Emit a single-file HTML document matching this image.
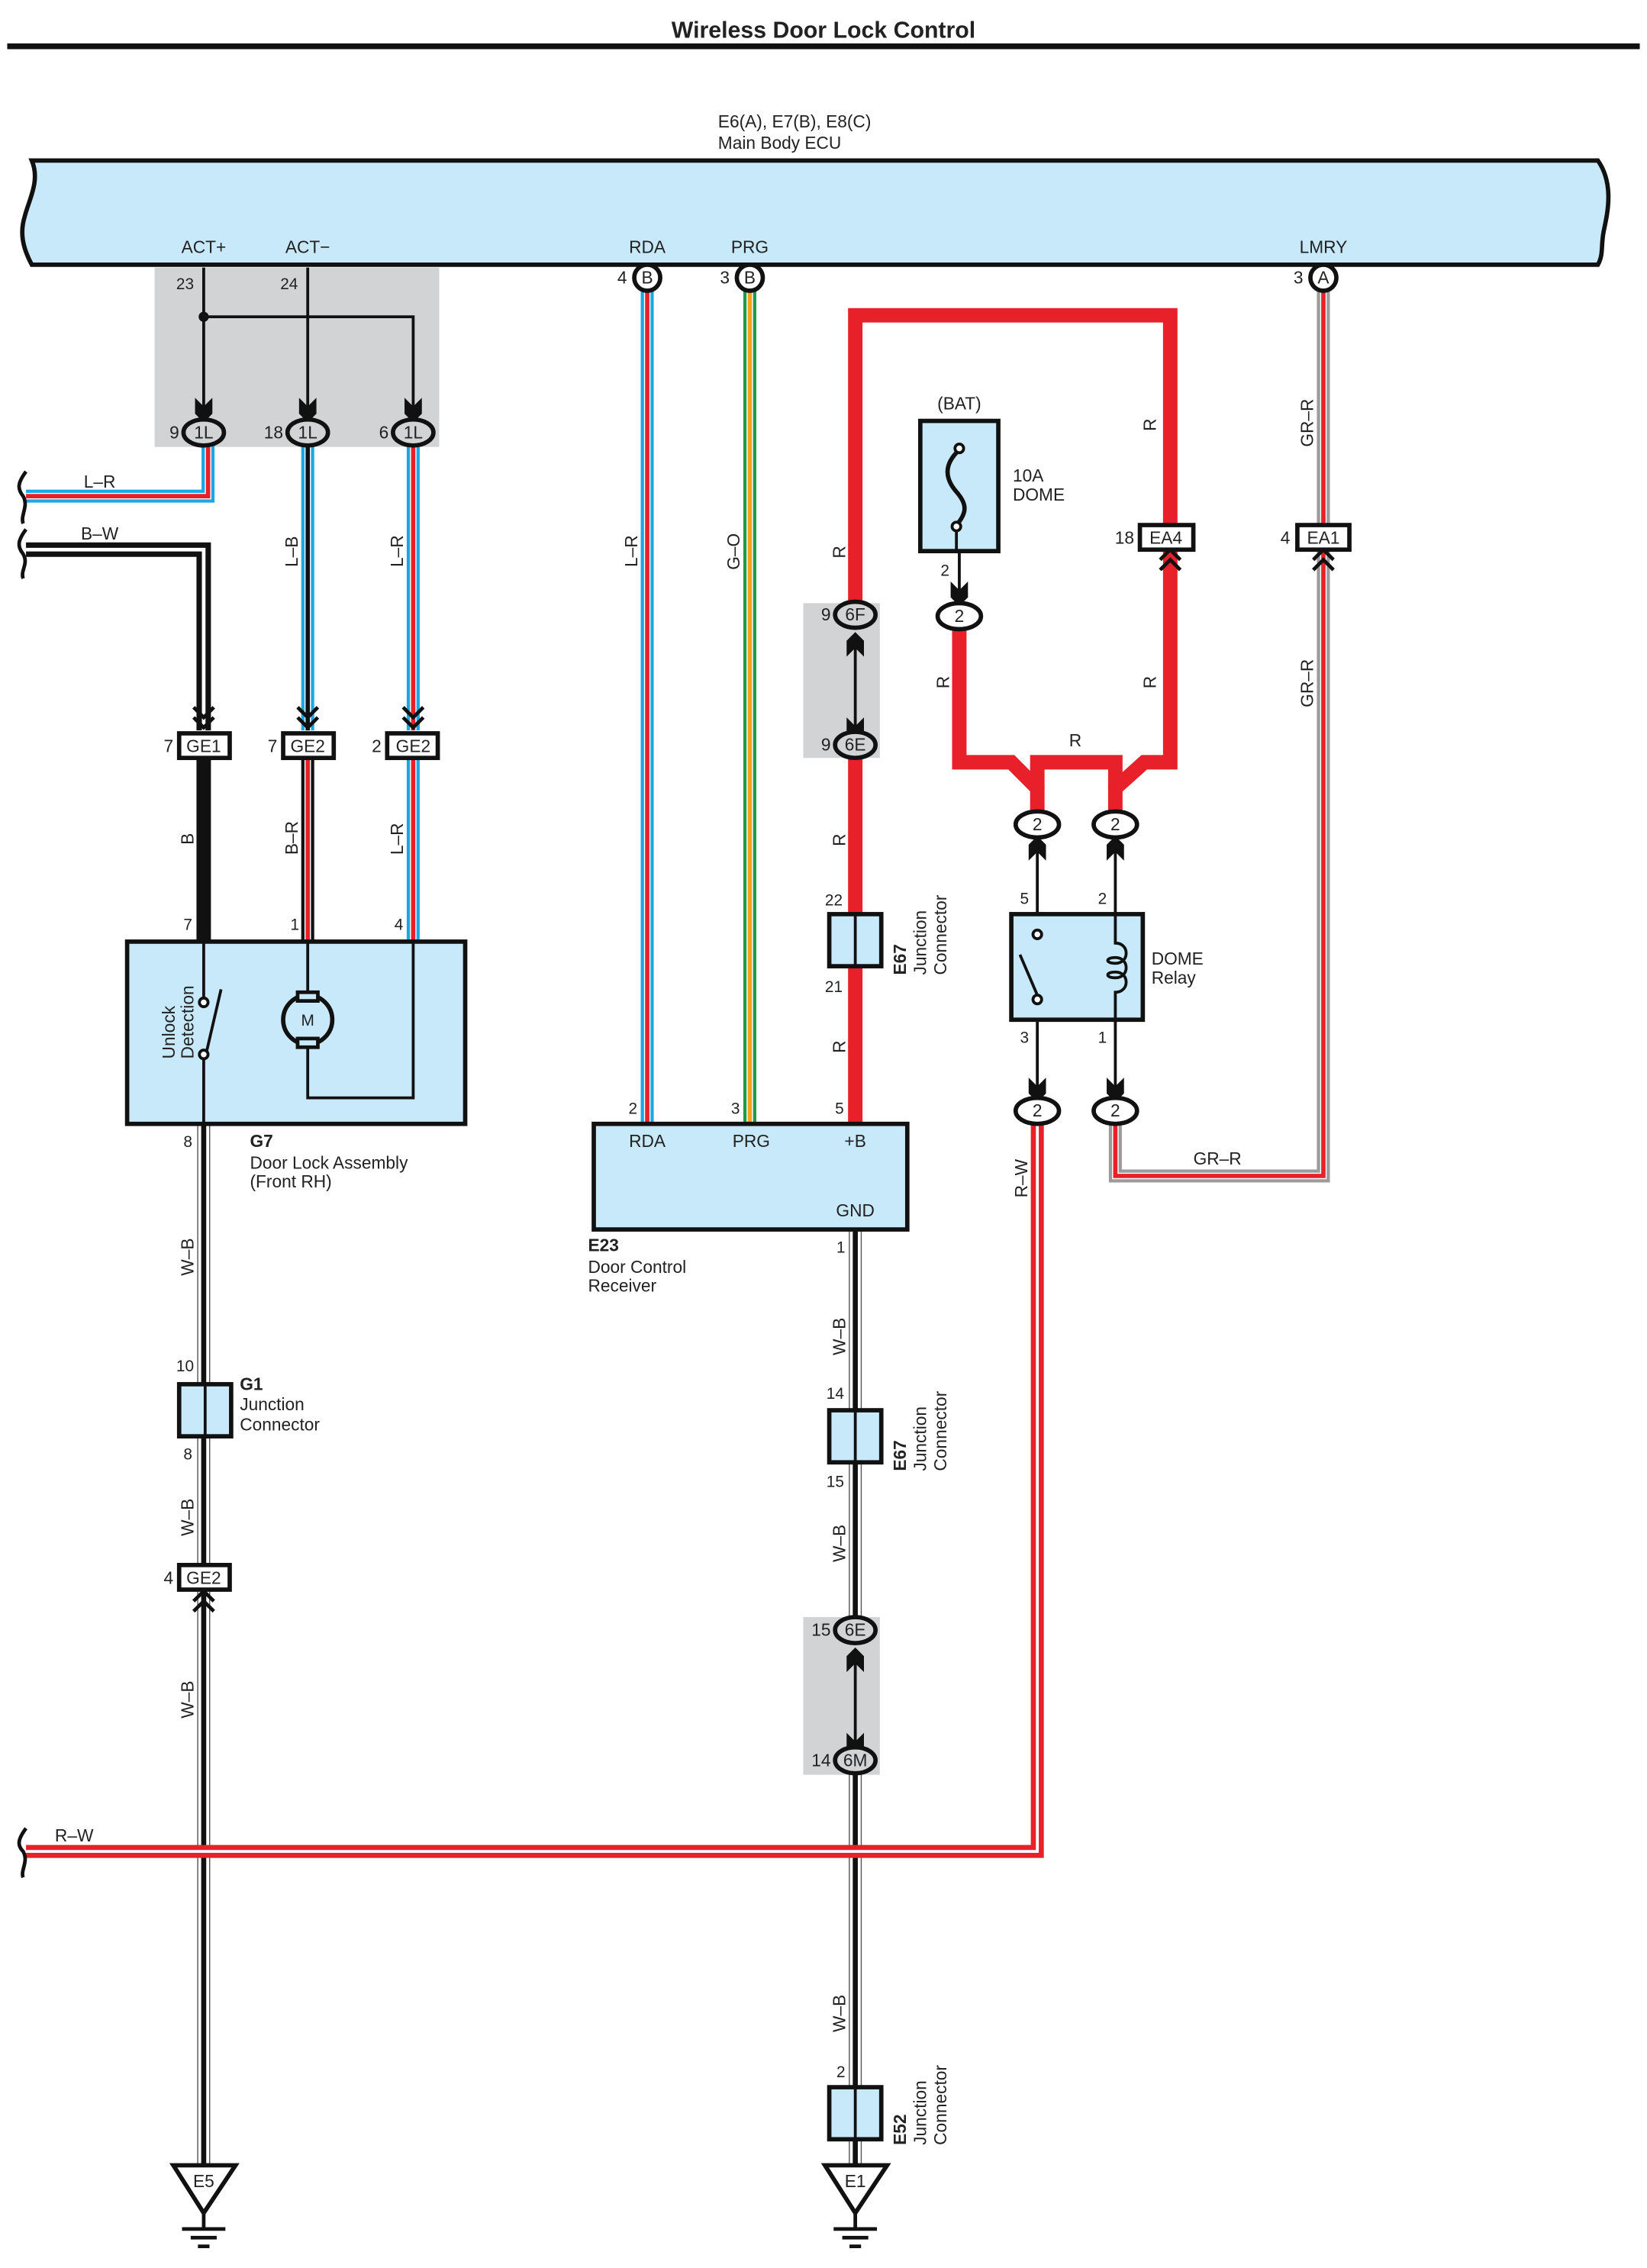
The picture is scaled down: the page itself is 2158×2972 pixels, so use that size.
<!DOCTYPE html>
<html><head><meta charset="utf-8"><style>
html,body{margin:0;padding:0;background:#fff}
svg{display:block}
text{font-family:"Liberation Sans",sans-serif;fill:#222}
.t{font-size:12px}
.s{font-size:11px}
.b{font-weight:bold}
</style></head><body>
<svg width="2158" height="2972" viewBox="0 0 1140 1568" preserveAspectRatio="none" xmlns="http://www.w3.org/2000/svg">
<defs>
<path id="lr1" d="M18 343 H144 V308"/>
<path id="bw" d="M18 380 H141 V505"/>
<path id="lb" d="M213 308 V505"/>
<path id="lr2" d="M286 308 V505"/>
<path id="rda" d="M448 201 V777"/>
<path id="prg" d="M519 201 V777"/>
<path id="br" d="M213 525 V651"/>
<path id="lr3" d="M286 525 V651"/>
<path id="rw" d="M18 1280 H718 V778"/>
<path id="grr" d="M772 778 V813 H916 V201"/>
<path id="wb1" d="M141 777 V1500"/>
<path id="wb2" d="M592 850 V1118"/>
<path id="wb3" d="M592 1226 V1500"/>
</defs>
<rect width="1140" height="1568" fill="#fff"/>
<text x="570" y="26" text-anchor="middle" class="b" style="font-size:16px">Wireless Door Lock Control</text>
<rect x="5" y="30" width="1130" height="4" fill="#111"/>
<text x="497" y="88" class="t">E6(A), E7(B), E8(C)</text>
<text x="497" y="103" class="t">Main Body ECU</text>
<path d="M22 111 H1106 C1118 128 1112 150 1110 160 C1108 170 1110 176 1106 183 H22 C15 170 14 160 17 150 C20 138 28 125 22 111 Z" fill="#c8e9f9" stroke="#111" stroke-width="3"/>
<g class="t" text-anchor="middle"><text x="141" y="175">ACT+</text><text x="213" y="175">ACT−</text><text x="448" y="175">RDA</text><text x="519" y="175">PRG</text><text x="916" y="175">LMRY</text></g>
<rect x="107" y="185" width="197" height="124" fill="#d1d3d4"/>
<rect x="556" y="417" width="53" height="107" fill="#d1d3d4"/>
<rect x="556" y="1118" width="53" height="109" fill="#d1d3d4"/>
<g class="s"><text x="122" y="200">23</text><text x="194" y="200">24</text></g>
<g stroke="#111" stroke-width="2" fill="none"><path d="M141 185 V290"/><path d="M213 185 V290"/><path d="M141 219 H286 V290"/></g>
<circle cx="141" cy="219" r="3.5" fill="#111"/>
<g fill="none">
<use href="#lr1" stroke="#1ca6e2" stroke-width="9"/><use href="#lr1" stroke="#fff" stroke-width="4.5"/><use href="#lr1" stroke="#e8202a" stroke-width="3"/>
<use href="#bw" stroke="#111" stroke-width="10"/><use href="#bw" stroke="#fff" stroke-width="2.5"/>
<use href="#lb" stroke="#1ca6e2" stroke-width="9"/><use href="#lb" stroke="#fff" stroke-width="4.5"/><use href="#lb" stroke="#111" stroke-width="3"/>
<use href="#lr2" stroke="#1ca6e2" stroke-width="9"/><use href="#lr2" stroke="#fff" stroke-width="4.5"/><use href="#lr2" stroke="#e8202a" stroke-width="3"/>
<use href="#lr3" stroke="#1ca6e2" stroke-width="9"/><use href="#lr3" stroke="#fff" stroke-width="4.5"/><use href="#lr3" stroke="#e8202a" stroke-width="3"/>
<use href="#rda" stroke="#1ca6e2" stroke-width="9"/><use href="#rda" stroke="#fff" stroke-width="4.5"/><use href="#rda" stroke="#e8202a" stroke-width="3"/>
<use href="#prg" stroke="#1f9a48" stroke-width="9"/><use href="#prg" stroke="#fff" stroke-width="4.5"/><use href="#prg" stroke="#f7a21b" stroke-width="3"/>
<use href="#br" stroke="#111" stroke-width="9"/><use href="#br" stroke="#fff" stroke-width="4.5"/><use href="#br" stroke="#e8202a" stroke-width="3"/>
<path d="M141 525 V651" stroke="#111" stroke-width="10"/>
<use href="#wb1" stroke="#555" stroke-width="9"/><use href="#wb1" stroke="#fff" stroke-width="7.5"/><use href="#wb1" stroke="#111" stroke-width="3.5"/>
<use href="#wb2" stroke="#555" stroke-width="9"/><use href="#wb2" stroke="#fff" stroke-width="7.5"/><use href="#wb2" stroke="#111" stroke-width="3.5"/>
<use href="#wb3" stroke="#555" stroke-width="9"/><use href="#wb3" stroke="#fff" stroke-width="7.5"/><use href="#wb3" stroke="#111" stroke-width="3.5"/>
<use href="#grr" stroke="#9b9b9b" stroke-width="9"/><use href="#grr" stroke="#fff" stroke-width="4.5"/><use href="#grr" stroke="#e8202a" stroke-width="3"/>
<use href="#rw" stroke="#e8202a" stroke-width="9"/><use href="#rw" stroke="#fff" stroke-width="2"/>
<g stroke="#e8202a" stroke-width="10" stroke-linejoin="miter">
<path d="M592 417 V218 H810 V527 H792 L772 545 V562"/>
<path d="M592 777 V522"/>
<path d="M664 433 V527 H700 L718 545 V562"/>
<path d="M718 545 V527 H772 V545"/>
</g>
<path d="M664 381 V418" stroke="#111" stroke-width="2"/>
<g stroke="#111" stroke-width="2"><path d="M718 578 V646"/><path d="M772 578 V760"/><path d="M718 690 V760"/></g>
</g>
<g fill="#111">
<path d="M135 275 L141 281 L147 275 L147 286 L141 292 L135 286Z"/>
<path d="M207 275 L213 281 L219 275 L219 286 L213 292 L207 286Z"/>
<path d="M280 275 L286 281 L292 275 L292 286 L286 292 L280 286Z"/>
<path d="M658 402 L664 408 L670 402 L670 413 L664 419 L658 413Z"/>
<path d="M712 745 L718 751 L724 745 L724 756 L718 762 L712 756Z"/>
<path d="M766 745 L772 751 L778 745 L778 756 L772 762 L766 756Z"/>
<path d="M586 496 L592 502 L598 496 L598 507 L592 513 L586 507Z"/>
<path d="M586 1198 L592 1204 L598 1198 L598 1209 L592 1215 L586 1209Z"/>
<path d="M586 454 L592 448 L598 454 L598 443 L592 437 L586 443Z"/>
<path d="M586 1156 L592 1150 L598 1156 L598 1145 L592 1139 L586 1145Z"/>
<path d="M712 595 L718 589 L724 595 L724 584 L718 578 L712 584Z"/>
<path d="M766 595 L772 589 L778 595 L778 584 L772 578 L766 584Z"/>
</g>
<g stroke="#111" stroke-width="2"><path d="M592 440 V510"/><path d="M592 1142 V1212"/></g>
<g fill="none" stroke="#111" stroke-width="2.5">
<path d="M134 489 L141 496 L148 489 M134 496 L141 503 L148 496"/>
<path d="M206 489 L213 496 L220 489 M206 496 L213 503 L220 496"/>
<path d="M279 489 L286 496 L293 489 M279 496 L286 503 L293 496"/>
<path d="M803 387 L810 380 L817 387 M803 394 L810 387 L817 394"/>
<path d="M909 387 L916 380 L923 387 M909 394 L916 387 L923 394"/>
<path d="M134 1107 L141 1100 L148 1107 M134 1114 L141 1107 L148 1114"/>
</g>
<g stroke="#111" stroke-width="3">
<ellipse cx="448" cy="192" rx="9" ry="9" fill="#fff"/>
<ellipse cx="519" cy="192" rx="9" ry="9" fill="#fff"/>
<ellipse cx="916" cy="192" rx="9" ry="9" fill="#fff"/>
<ellipse cx="141" cy="299" rx="14" ry="9" fill="#d1d3d4"/>
<ellipse cx="213" cy="299" rx="14" ry="9" fill="#d1d3d4"/>
<ellipse cx="286" cy="299" rx="14" ry="9" fill="#d1d3d4"/>
<ellipse cx="592" cy="425" rx="14" ry="9" fill="#d1d3d4"/>
<ellipse cx="592" cy="515" rx="14" ry="9" fill="#d1d3d4"/>
<ellipse cx="592" cy="1127" rx="14" ry="9" fill="#d1d3d4"/>
<ellipse cx="592" cy="1217" rx="14" ry="9" fill="#d1d3d4"/>
<ellipse cx="664" cy="426" rx="15" ry="9" fill="#fff"/>
<ellipse cx="718" cy="570" rx="15" ry="9" fill="#fff"/>
<ellipse cx="772" cy="570" rx="15" ry="9" fill="#fff"/>
<ellipse cx="718" cy="768" rx="15" ry="9" fill="#fff"/>
<ellipse cx="772" cy="768" rx="15" ry="9" fill="#fff"/>
</g>
<g class="t" text-anchor="middle">
<text x="448" y="196">B</text><text x="519" y="196">B</text><text x="916" y="196">A</text>
<text x="141" y="303">1L</text><text x="213" y="303">1L</text><text x="286" y="303">1L</text>
<text x="592" y="429">6F</text><text x="592" y="519">6E</text><text x="592" y="1131">6E</text><text x="592" y="1221">6M</text>
<text x="664" y="430">2</text><text x="718" y="574">2</text><text x="772" y="574">2</text><text x="718" y="772">2</text><text x="772" y="772">2</text>
</g>
<g class="t" text-anchor="end">
<text x="434" y="196">4</text><text x="505" y="196">3</text><text x="902" y="196">3</text>
<text x="124" y="303">9</text><text x="196" y="303">18</text><text x="269" y="303">6</text>
<text x="575" y="429">9</text><text x="575" y="519">9</text><text x="575" y="1131">15</text><text x="575" y="1221">14</text>
</g>
<g stroke="#111" stroke-width="3" fill="#fff">
<rect x="124" y="507" width="35" height="17"/><rect x="196" y="507" width="35" height="17"/><rect x="268" y="507" width="35" height="17"/>
<rect x="789" y="363" width="37" height="17"/><rect x="898" y="363" width="36" height="17"/>
<rect x="124" y="1082" width="35" height="17"/>
</g>
<g class="t" text-anchor="middle">
<text x="141" y="520">GE1</text><text x="213" y="520">GE2</text><text x="286" y="520">GE2</text>
<text x="807" y="376">EA4</text><text x="916" y="376">EA1</text><text x="141" y="1095">GE2</text>
</g>
<g class="t" text-anchor="end"><text x="120" y="520">7</text><text x="192" y="520">7</text><text x="264" y="520">2</text><text x="785" y="376">18</text><text x="893" y="376">4</text><text x="120" y="1095">4</text></g>
<rect x="88" y="651" width="234" height="126" fill="#c8e9f9" stroke="#111" stroke-width="3"/>
<g stroke="#111" stroke-width="2" fill="none">
<path d="M141 652 V690"/><circle cx="141" cy="693" r="3" fill="#fff"/>
<path d="M143 727 L153 684"/><circle cx="141" cy="729" r="3" fill="#fff"/><path d="M141 732 V777"/>
<path d="M213 652 V690"/><path d="M213 720 V759 H286 V652"/>
</g>
<circle cx="213" cy="705" r="17" fill="#c8e9f9" stroke="#111" stroke-width="3"/>
<rect x="206" y="686" width="14" height="6" fill="#c8e9f9" stroke="#111" stroke-width="2.5"/>
<rect x="206" y="718" width="14" height="6" fill="#c8e9f9" stroke="#111" stroke-width="2.5"/>
<text x="213" y="709" class="s" text-anchor="middle">M</text>
<text transform="translate(121 732) rotate(-90)" class="t">Unlock</text>
<text transform="translate(134 732) rotate(-90)" class="t">Detection</text>
<g class="s"><text x="127" y="643">7</text><text x="201" y="643">1</text><text x="273" y="643">4</text><text x="127" y="793">8</text></g>
<text x="173" y="793" class="t b">G7</text>
<text x="173" y="808" class="t">Door Lock Assembly</text>
<text x="173" y="821" class="t">(Front RH)</text>
<rect x="411" y="777" width="217" height="73" fill="#c8e9f9" stroke="#111" stroke-width="3"/>
<g class="t" text-anchor="middle"><text x="448" y="793">RDA</text><text x="520" y="793">PRG</text><text x="592" y="793">+B</text><text x="592" y="841">GND</text></g>
<g class="s"><text x="435" y="770">2</text><text x="506" y="770">3</text><text x="578" y="770">5</text><text x="579" y="866">1</text></g>
<text x="407" y="865" class="t b">E23</text>
<text x="407" y="880" class="t">Door Control</text>
<text x="407" y="893" class="t">Receiver</text>
<g stroke="#111" stroke-width="3" fill="#c8e9f9">
<rect x="574" y="632" width="36" height="36"/><rect x="124" y="957" width="36" height="36"/>
<rect x="574" y="975" width="36" height="36"/><rect x="574" y="1443" width="36" height="36"/>
</g>
<g stroke="#111" stroke-width="2"><path d="M592 632 V668"/><path d="M142 957 V993"/><path d="M592 975 V1011"/><path d="M592 1443 V1479"/></g>
<g class="s"><text x="571" y="626">22</text><text x="571" y="686">21</text><text x="122" y="948">10</text><text x="127" y="1009">8</text><text x="572" y="967">14</text><text x="572" y="1028">15</text><text x="579" y="1436">2</text></g>
<text x="166" y="961" class="t b">G1</text><text x="166" y="975" class="t">Junction</text><text x="166" y="989" class="t">Connector</text>
<g class="t">
<text transform="translate(627 674) rotate(-90)" class="b">E67</text><text transform="translate(641 674) rotate(-90)">Junction</text><text transform="translate(655 674) rotate(-90)">Connector</text>
<text transform="translate(627 1017) rotate(-90)" class="b">E67</text><text transform="translate(641 1017) rotate(-90)">Junction</text><text transform="translate(655 1017) rotate(-90)">Connector</text>
<text transform="translate(627 1483) rotate(-90)" class="b">E52</text><text transform="translate(641 1483) rotate(-90)">Junction</text><text transform="translate(655 1483) rotate(-90)">Connector</text>
</g>
<rect x="637" y="291" width="54" height="90" fill="#c8e9f9" stroke="#111" stroke-width="3"/>
<path d="M664 311 C652 322 655 332 662 340 C669 348 670 354 662 363" fill="none" stroke="#111" stroke-width="3"/>
<circle cx="664" cy="310" r="3" fill="#fff" stroke="#111" stroke-width="2"/><circle cx="662" cy="364" r="3" fill="#fff" stroke="#111" stroke-width="2"/>
<path d="M662 367 V381" stroke="#111" stroke-width="2"/>
<text x="664" y="283" class="t" text-anchor="middle">(BAT)</text>
<text x="701" y="333" class="t">10A</text><text x="701" y="346" class="t">DOME</text>
<text x="651" y="398" class="s">2</text>
<rect x="700" y="632" width="91" height="73" fill="#c8e9f9" stroke="#111" stroke-width="3"/>
<g stroke="#111" stroke-width="2" fill="none">
<circle cx="718" cy="646" r="3" fill="#fff"/><path d="M718 688 L706 660"/><circle cx="718" cy="691" r="3" fill="#fff"/>
<path d="M772 632 V652 C782 652 782 666 772 666 C765 666 765 662 772 662 M772 662 C782 662 782 676 772 676 C765 676 765 672 772 672 M772 672 C782 672 782 686 772 686 V705"/>
</g>
<text x="797" y="667" class="t">DOME</text><text x="797" y="680" class="t">Relay</text>
<g class="s"><text x="706" y="625">5</text><text x="760" y="625">2</text><text x="706" y="721">3</text><text x="760" y="721">1</text></g>
<g stroke="#111" stroke-width="3" fill="#fff">
<path d="M120 1497 H163 L141 1530 Z"/><path d="M571 1497 H614 L592 1530 Z"/>
</g>
<g stroke="#111" stroke-width="2.5">
<path d="M141 1530 V1541 M126 1541 H156 M132 1547 H150 M137 1553 H145"/>
<path d="M592 1479 V1497 M592 1530 V1541 M577 1541 H607 M583 1547 H601 M588 1553 H596"/>
</g>
<g class="t" text-anchor="middle"><text x="141" y="1512">E5</text><text x="592" y="1512">E1</text></g>
<g stroke="#111" stroke-width="2.5" fill="none"><path d="M18 326 C12 334 12 338 16 343 C20 350 14 356 16 362"/><path d="M18 366 C12 374 12 378 16 383 C20 390 14 394 16 400"/><path d="M18 1264 C12 1272 12 1276 16 1280 C20 1287 14 1293 16 1298"/></g>
<g class="t">
<text x="58" y="337">L–R</text><text x="56" y="373">B–W</text><text x="38" y="1273">R–W</text><text x="826" y="805">GR–R</text><text x="740" y="516">R</text>
<text transform="translate(206 392) rotate(-90)">L–B</text>
<text transform="translate(279 392) rotate(-90)">L–R</text>
<text transform="translate(441 392) rotate(-90)">L–R</text>
<text transform="translate(512 394) rotate(-90)">G–O</text>
<text transform="translate(585 386) rotate(-90)">R</text>
<text transform="translate(585 585) rotate(-90)">R</text>
<text transform="translate(585 728) rotate(-90)">R</text>
<text transform="translate(657 476) rotate(-90)">R</text>
<text transform="translate(800 298) rotate(-90)">R</text>
<text transform="translate(800 476) rotate(-90)">R</text>
<text transform="translate(909 309) rotate(-90)">GR–R</text>
<text transform="translate(909 489) rotate(-90)">GR–R</text>
<text transform="translate(134 584) rotate(-90)">B</text>
<text transform="translate(206 591) rotate(-90)">B–R</text>
<text transform="translate(279 591) rotate(-90)">L–R</text>
<text transform="translate(134 882) rotate(-90)">W–B</text>
<text transform="translate(134 1062) rotate(-90)">W–B</text>
<text transform="translate(134 1188) rotate(-90)">W–B</text>
<text transform="translate(585 937) rotate(-90)">W–B</text>
<text transform="translate(585 1080) rotate(-90)">W–B</text>
<text transform="translate(585 1405) rotate(-90)">W–B</text>
<text transform="translate(711 828) rotate(-90)">R–W</text>
</g>
</svg>
</body></html>
